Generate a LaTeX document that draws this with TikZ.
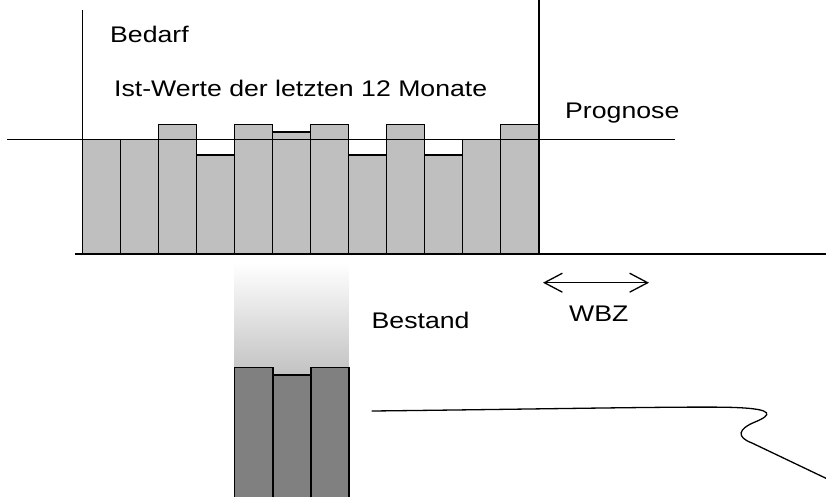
\documentclass[tikz,border=0pt]{standalone}
\usepackage{fontspec}
\setmainfont{Liberation Sans}[FakeStretch=1.18]
\usetikzlibrary{arrows.meta}
\begin{document}
\begin{tikzpicture}[x=1pt,y=-1pt,
  lbl/.style={anchor=base west,inner sep=0pt,font=\fontsize{22.6}{26}\selectfont},
  lightbar/.style={fill=black!25,draw=black,line width=1.6pt},
  darkbar/.style={fill=black!50,draw=black,line width=1.6pt},
  axis/.style={line width=1.6pt},
  thin/.style={line width=1.3pt}]
\useasboundingbox (0,0) rectangle (826,496);
% upper bars
\def\xo{82.3}\def\bw{38.03}
\foreach \t [count=\i from 0] in {139.5,139.5,124.3,154.7,124.3,132,124.3,154.7,124.3,154.7,139.5,124.3}{
  \draw[lightbar] ({\xo+\i*\bw},253.7) rectangle ({\xo+(\i+1)*\bw},\t);
}
% gradient above lower bars
\shade[top color=white,bottom color=black!24] (234.3,263) rectangle (348.7,375);
% lower bars
\draw[darkbar] (234.3,498) rectangle (272.7,367.3);
\draw[darkbar] (272.7,498) rectangle (310.7,375);
\draw[darkbar] (310.7,498) rectangle (348.7,367.3);
% lines
\coordinate (hl1) at (7,139.5);
\coordinate (hl2) at (675,139.5);
\draw[thin] (hl1) -- (hl2);
\coordinate (bl1) at (75,253.7);
\coordinate (bl2) at (826,253.7);
\draw[axis] (bl1) -- (bl2);
\coordinate (vl1) at (82.5,10);
\coordinate (vl2) at (82.5,253.7);
\draw[axis] (vl1) -- (vl2);
\coordinate (vr1) at (538.9,0);
\coordinate (vr2) at (538.9,253.7);
\draw[axis] (vr1) -- (vr2);
% WBZ arrow
\coordinate (wa) at (543,282.7);
\coordinate (wb) at (649,282.7);
\draw[thin,{Straight Barb[length=18pt,width=19pt]}-{Straight Barb[length=18pt,width=19pt]}] (wa) -- (wb);
% texts
\node[lbl] (bedarf) at (110,42.7) {Bedarf};
\node[lbl] (ist) at (114,96.7) {Ist-Werte der letzten 12 Monate};
\node[lbl] (prog) at (565,118.3) {Prognose};
\node[lbl] (best) at (371.5,328.3) {Bestand};
\node[lbl] (wbz) at (569,321.7) {WBZ};
% curve
\coordinate (c0) at (371.7,411);
\coordinate (c9) at (826,478.3);
\draw[thin] (c0) .. controls (550,409) and (700,406) .. (735,407.5)
  .. controls (775,409) and (772,415) .. (755,422)
  .. controls (738,429) and (736,437) .. (752,443) -- (c9);
\end{tikzpicture}
\end{document}
